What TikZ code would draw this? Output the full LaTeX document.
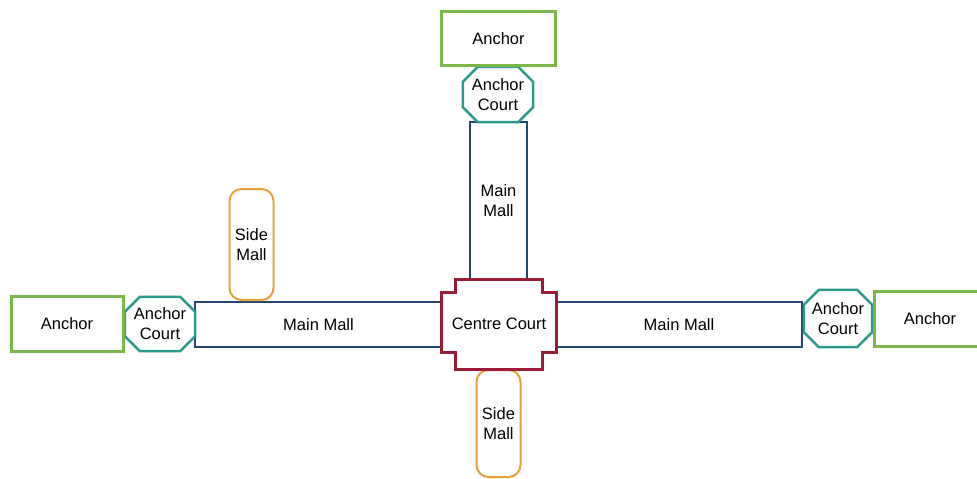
\documentclass[tikz,border=0pt]{standalone}
\usepackage{fontspec}
\setmainfont{Liberation Sans}
\definecolor{agreen}{HTML}{7AB648}
\definecolor{ateal}{HTML}{2A9A8A}
\definecolor{mblue}{HTML}{22466F}
\definecolor{ccred}{HTML}{9A1B35}
\definecolor{sorange}{HTML}{E6A03C}
\newcommand{\octoborder}[1]{%
  \path[courtline] ([xshift=15pt]#1.north west) -- ([xshift=-15pt]#1.north east)
    -- ([yshift=-15pt]#1.north east) -- ([yshift=15pt]#1.south east)
    -- ([xshift=-15pt]#1.south east) -- ([xshift=15pt]#1.south west)
    -- ([yshift=15pt]#1.south west) -- ([yshift=-15pt]#1.north west) -- cycle;}
\begin{document}
\begin{tikzpicture}[x=1pt,y=-1pt,
  every node/.style={font=\fontsize{16.5}{20}\selectfont, align=center, inner sep=0pt},
  anchorbox/.style={draw=agreen, line width=3pt, fill=white, minimum width=112pt, minimum height=55pt},
  courtbox/.style={minimum width=70pt, minimum height=55pt},
  courtline/.style={draw=ateal, line width=2.5pt, fill=white},
  mallbox/.style={draw=mblue, line width=2.6pt, fill=white},
  sidebox/.style={draw=sorange, line width=2pt, fill=white, rounded corners=12pt, minimum width=44pt},
  ccline/.style={draw=ccred, line width=2.8pt, fill=white}
]
\useasboundingbox (0,0) rectangle (977,479);
% main malls
\node[mallbox, minimum width=57pt, minimum height=157pt] (tmall) at (498.5,200.5) {Main\\Mall};
\node[mallbox, minimum width=247pt, minimum height=45pt] (lmall) at (318.5,324.5) {Main Mall};
\node[mallbox, minimum width=246pt, minimum height=45pt] (rmall) at (679,324.5) {Main Mall};
% side malls
\node[sidebox, minimum height=111pt] (lside) at (251.5,244.5) {Side\\Mall};
\node[sidebox, minimum height=107pt] (bside) at (498.5,423.5) {Side\\Mall};
% centre court
\node[minimum width=114pt, minimum height=89.5pt] (cc) at (499,324.25) {};
\path[ccline] ([xshift=14pt]cc.north west) -- ([xshift=-14pt]cc.north east) -- ++(0,13)
  -- ([yshift=-13pt]cc.north east) -- ([yshift=17pt]cc.south east) -- ++(-14,0)
  -- ([xshift=-14pt]cc.south east) -- ([xshift=14pt]cc.south west) -- ++(0,-17)
  -- ([yshift=17pt]cc.south west) -- ([yshift=-13pt]cc.north west) -- ++(14,0) -- cycle;
\node (cctext) at (cc.center) {Centre Court};
% anchor courts
\node[courtbox] (tcourt) at (498,94.5) {};
\octoborder{tcourt}
\node (tcourttext) at (tcourt.center) {Anchor\\Court};
\node[courtbox, minimum height=54pt] (lcourt) at (160,324) {};
\octoborder{lcourt}
\node (lcourttext) at (lcourt.center) {Anchor\\Court};
\node[courtbox, minimum width=68pt, minimum height=57pt] (rcourt) at (838,318.5) {};
\octoborder{rcourt}
\node (rcourttext) at (rcourt.center) {Anchor\\Court};
% anchors
\node[anchorbox, minimum width=114pt, minimum height=54pt] (tanchor) at (498.5,38.5) {Anchor};
\node[anchorbox] (lanchor) at (67,324) {Anchor};
\node[anchorbox] (ranchor) at (930,319) {Anchor};
\end{tikzpicture}
\end{document}
